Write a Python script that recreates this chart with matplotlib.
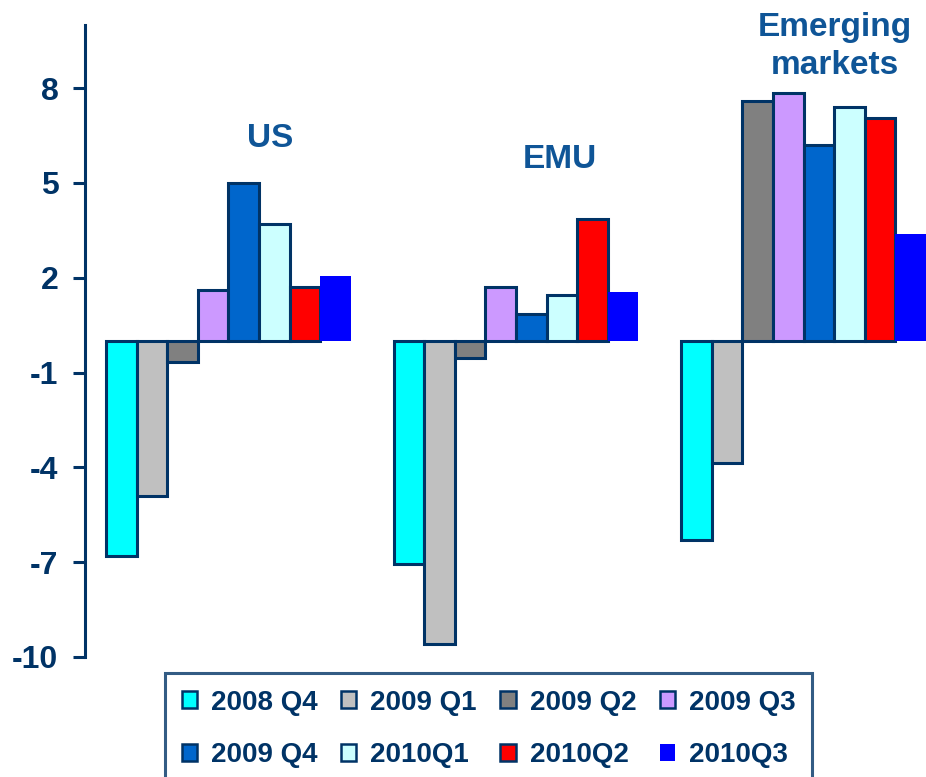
import numpy as np
import matplotlib.pyplot as plt
from matplotlib.patches import Patch

# Quarterly growth by region
regions = ['US', 'EMU', 'Emerging\nmarkets']
quarters = ['2008 Q4', '2009 Q1', '2009 Q2', '2009 Q3',
            '2009 Q4', '2010Q1', '2010Q2', '2010Q3']
us = [-6.8, -4.9, -0.65, 1.6, 5.0, 3.7, 1.7, 2.05]
emu = [-7.05, -9.6, -0.55, 1.7, 0.85, 1.45, 3.85, 1.55]
em = [-6.3, -3.85, 7.6, 7.85, 6.2, 7.4, 7.05, 3.4]
values = np.array([us, emu, em])

colors = ['#00FFFF', '#C0C0C0', '#808080', '#CC99FF',
          '#0066CC', '#CCFFFF', '#FF0000', '#0000FF']
navy = '#003366'
label_blue = '#0F5597'

plt.rcParams['font.family'] = ['Liberation Sans', 'DejaVu Sans']
plt.rcParams['font.weight'] = 'bold'
plt.rcParams['axes.unicode_minus'] = False

fig = plt.figure(figsize=(9.26, 7.77), dpi=100)
ax = fig.add_axes([85 / 926, 120 / 777, 841 / 926, 632 / 777])

group_gap = 9.4
centers = np.arange(len(regions)) * group_gap
offsets = np.arange(len(quarters)) - 3.5

for i, q in enumerate(quarters):
    edge = 'none' if i == len(quarters) - 1 else navy
    ax.bar(centers + offsets[i], values[:, i], width=1.0, color=colors[i],
           edgecolor=edge, linewidth=2.2, label=q)

# region names above each group
label_pos = [(1.36, 6.4), (1.44, 5.75), (1.02, 9.33)]
for c, name, (dx, y) in zip(centers, regions, label_pos):
    ax.text(c + dx, y, name, ha='center', va='center', fontsize=24,
            fontweight='bold', color=label_blue, linespacing=1.3)

ax.set_xlim(-4.686, 22.8)
ax.set_ylim(-10, 10)
ax.set_yticks([-10, -7, -4, -1, 2, 5, 8])
ax.set_xticks([])
for s in ['top', 'right', 'bottom']:
    ax.spines[s].set_visible(False)
ax.spines['left'].set_color(navy)
ax.spines['left'].set_linewidth(2.2)
ax.tick_params(axis='y', colors=navy, length=8.6, width=2.2, pad=10.5,
               labelsize=23)
for t in ax.get_yticklabels():
    t.set_fontweight('bold')

# legend: fill row by row
handles = [Patch(facecolor=colors[i],
                 edgecolor='none' if i == 7 else navy,
                 linewidth=1.8) for i in range(8)]
order = [0, 4, 1, 5, 2, 6, 3, 7]
leg = fig.legend([handles[i] for i in order], [quarters[i] for i in order],
                 loc='upper left', bbox_to_anchor=(165 / 926, 1 - 673 / 777),
                 ncol=4, frameon=True, fancybox=False,
                 edgecolor=navy, borderaxespad=0, borderpad=0.6,
                 handlelength=0.55, handleheight=0.55, handletextpad=0.5,
                 columnspacing=0.85, labelspacing=0.95,
                 prop={'weight': 'bold', 'size': 20})
leg.get_frame().set_linewidth(2.2)
for t in leg.get_texts():
    t.set_color(navy)

fig.savefig('out.png', dpi=100)
